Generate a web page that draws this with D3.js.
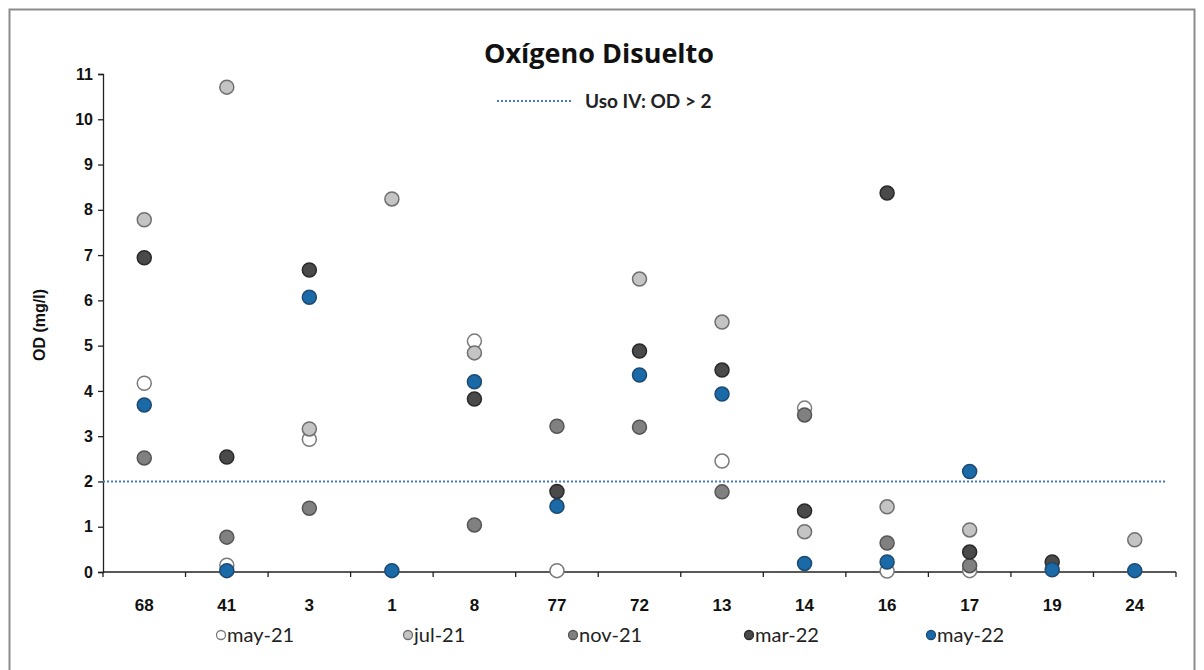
<!DOCTYPE html>
<html>
<head>
<meta charset="utf-8">
<script src="https://cdn.jsdelivr.net/npm/d3@7"></script>
<style>
  body { margin: 0; background: #fff; }
  svg { display: block; font-family: Lato, "Open Sans", sans-serif; }
</style>
</head>
<body>
<div id="chart"></div>
<script>
// station codes along the x axis
const stations = ["68", "41", "3", "1", "8", "77", "72", "13", "14", "16", "17", "19", "24"];
const yTicks = [0, 1, 2, 3, 4, 5, 6, 7, 8, 9, 10, 11];
const limitOD = 2;

// dissolved oxygen (mg/l) per campaign, null = not shown
const may21 = [4.17, 0.15, 2.93, null, 5.10, 0.03, null, 2.45, 3.62, 0.02, 0.03, null, null];
const jul21 = [7.78, 10.71, 3.16, 8.24, 4.84, null, 6.47, 5.52, 0.89, 1.44, 0.93, null, 0.71];
const nov21 = [2.52, 0.77, 1.41, null, 1.04, 3.22, 3.20, 1.77, 3.47, 0.64, 0.14, null, null];
const mar22 = [6.94, 2.54, 6.67, null, 3.82, 1.78, 4.88, 4.46, 1.35, 8.37, 0.44, 0.22, null];
const may22 = [3.69, 0.03, 6.07, 0.03, 4.20, 1.45, 4.35, 3.93, 0.19, 0.22, 2.22, 0.05, 0.03];

const seriesNames = ["may-21", "jul-21", "nov-21", "mar-22", "may-22"];
const seriesValues = [may21, jul21, nov21, mar22, may22];
const fills = ["#ffffff", "#c4c4c4", "#808080", "#4a4a4a", "#1b6aa8"];
const strokes = ["#7a7a7a", "#6f6f6f", "#555555", "#2a2a2a", "#1d4a72"];

const W = 1204, H = 670;
const svg = d3.select("#chart").append("svg").attr("width", W).attr("height", H);

svg.append("rect")
  .attr("x", 9.5).attr("y", 9.5)
  .attr("width", 1185).attr("height", 670)
  .attr("fill", "none").attr("stroke", "#8c8c8c").attr("stroke-width", 2);

const x = d3.scaleBand().domain(stations).range([103, 1176]).padding(0);
const y = d3.scaleLinear().domain([0, 11]).range([572, 74]);

// title
svg.append("text")
  .attr("x", 599).attr("y", 63)
  .attr("text-anchor", "middle")
  .attr("font-family", "'Open Sans', sans-serif")
  .attr("font-weight", "bold").attr("font-size", 27)
  .attr("fill", "#111")
  .text("Oxígeno Disuelto");

// reference line legend
svg.append("line")
  .attr("x1", 497).attr("x2", 573).attr("y1", 101).attr("y2", 101)
  .attr("stroke", "#4a78c0").attr("stroke-width", 2).attr("stroke-dasharray", "2,2");
svg.append("text")
  .attr("x", 585).attr("y", 108)
  .attr("font-weight", "bold").attr("font-size", 19).attr("fill", "#222")
  .text("Uso IV: OD > 2");

// y axis
const yAxis = svg.append("g")
  .attr("transform", "translate(103,0)")
  .call(d3.axisLeft(y).tickValues(yTicks).tickSize(5).tickPadding(5).tickFormat(d3.format("d")));
yAxis.selectAll("text")
  .attr("font-family", "'Liberation Sans', Arial, sans-serif")
  .attr("font-weight", "bold").attr("font-size", 16).attr("fill", "#111");
yAxis.selectAll("line, path").attr("stroke", "#222").attr("stroke-width", 1.3);

svg.append("text")
  .attr("transform", "translate(45,325) rotate(-90)")
  .attr("text-anchor", "middle")
  .attr("font-family", "'Liberation Sans', Arial, sans-serif")
  .attr("font-weight", "bold").attr("font-size", 16).attr("fill", "#111")
  .text("OD (mg/l)");

// x axis: labels centered, ticks between categories
const xAxis = svg.append("g")
  .attr("transform", "translate(0," + y(0) + ")")
  .call(d3.axisBottom(x).tickSize(0).tickPadding(27));
xAxis.select(".domain").remove();
xAxis.selectAll("text")
  .attr("font-weight", "bold").attr("font-size", 17).attr("fill", "#111");

svg.append("line")
  .attr("x1", x.range()[0]).attr("x2", x.range()[1])
  .attr("y1", y(0)).attr("y2", y(0))
  .attr("stroke", "#222").attr("stroke-width", 1.3);
svg.selectAll(".xtick")
  .data(stations.concat([null]))
  .enter().append("line")
  .attr("class", "xtick")
  .attr("x1", (d, i) => x.range()[0] + i * x.step())
  .attr("x2", (d, i) => x.range()[0] + i * x.step())
  .attr("y1", y(0)).attr("y2", y(0) + 5)
  .attr("stroke", "#222").attr("stroke-width", 1.3);

// limit line
svg.append("line")
  .attr("x1", x.range()[0]).attr("x2", 1165)
  .attr("y1", y(limitOD)).attr("y2", y(limitOD))
  .attr("stroke", "#4a78c0").attr("stroke-width", 2).attr("stroke-dasharray", "2,2");

// points
seriesValues.forEach((vals, s) => {
  const pts = vals.map((v, i) => ({ cat: stations[i], v: v })).filter(d => d.v !== null);
  svg.append("g").selectAll("circle")
    .data(pts)
    .enter().append("circle")
    .attr("cx", d => x(d.cat) + x.bandwidth() / 2)
    .attr("cy", d => y(d.v))
    .attr("r", 7)
    .attr("fill", fills[s])
    .attr("stroke", strokes[s])
    .attr("stroke-width", 1.5);
});

// bottom legend
const legendX = [221, 408, 573, 749, 931];
const legend = svg.append("g");
seriesNames.forEach((name, s) => {
  legend.append("circle")
    .attr("cx", legendX[s]).attr("cy", 635).attr("r", 4.5)
    .attr("fill", fills[s]).attr("stroke", strokes[s]).attr("stroke-width", 1.3);
  legend.append("text")
    .attr("x", legendX[s] + 6).attr("y", 642)
    .attr("font-size", 20).attr("fill", "#222")
    .text(name);
});
</script>
</body>
</html>
